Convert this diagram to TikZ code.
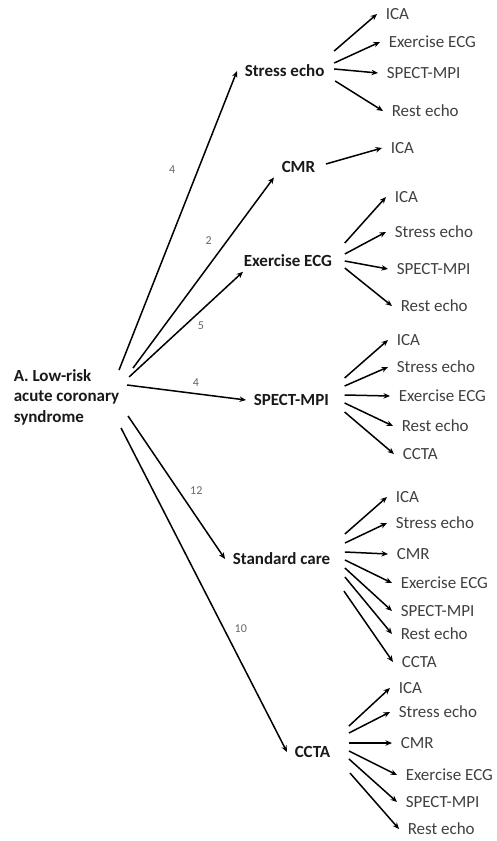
\documentclass[tikz,border=0pt]{standalone}
\usepackage{fontspec}
\setmainfont{Carlito}
\usetikzlibrary{arrows.meta}

\begin{document}
\begin{tikzpicture}[x=1pt, y=-1pt, line width=1.5pt, >={Stealth[length=6.5pt,width=5.5pt]},
    main/.style = {font=\fontsize{17}{20.5}\selectfont\bfseries, text=black!90, anchor=west, inner xsep=7pt, inner ysep=4pt},
    leaf/.style = {font=\fontsize{17}{20.5}\selectfont, text=black!75, anchor=west, inner xsep=8pt, inner ysep=2pt},
    num/.style = {font=\fontsize{12}{14}\selectfont, text=black!60, inner sep=0pt}]
    \useasboundingbox (0,0) rectangle (496,841);

    \node[main, align=left, inner sep=0pt] (0) at (13,397) {A. Low-risk\\acute coronary\\syndrome};
    \node[main] (1) at (237,71) {Stress echo};
    \node[main] (2) at (274,167) {CMR};
    \node[main] (3) at (236,261) {Exercise ECG};
    \node[main] (4) at (246,400) {SPECT-MPI};
    \node[main] (5) at (225,559) {Standard care};
    \node[main] (6) at (287,752) {CCTA};

    % second tests
    \node[leaf] (11) at (377,14) {ICA};
    \node[leaf] (12) at (380,42) {Exercise ECG};
    \node[leaf] (13) at (378,73) {SPECT-MPI};
    \node[leaf] (14) at (383,111) {Rest echo};
    \node[leaf] (21) at (382,148) {ICA};
    \node[leaf] (31) at (386,197) {ICA};
    \node[leaf] (32) at (386,232) {Stress echo};
    \node[leaf] (33) at (388,269) {SPECT-MPI};
    \node[leaf] (34) at (392,306) {Rest echo};
    \node[leaf] (41) at (388,340) {ICA};
    \node[leaf] (42) at (388,367) {Stress echo};
    \node[leaf] (43) at (390,396) {Exercise ECG};
    \node[leaf] (44) at (393,426) {Rest echo};
    \node[leaf] (45) at (394,454) {CCTA};
    \node[leaf] (51) at (387,497) {ICA};
    \node[leaf] (52) at (387,523) {Stress echo};
    \node[leaf] (53) at (388,554) {CMR};
    \node[leaf] (54) at (392,583) {Exercise ECG};
    \node[leaf] (55) at (392,611) {SPECT-MPI};
    \node[leaf] (56) at (392,634) {Rest echo};
    \node[leaf] (57) at (393,662) {CCTA};
    \node[leaf] (61) at (390,688) {ICA};
    \node[leaf] (62) at (390,712) {Stress echo};
    \node[leaf] (63) at (392,743) {CMR};
    \node[leaf] (64) at (397,775) {Exercise ECG};
    \node[leaf] (65) at (397,802) {SPECT-MPI};
    \node[leaf] (66) at (399,829) {Rest echo};

    % first tests
    \draw[->] ([shift={(-1,-27)}]0.east) -- (1.west) node[num, pos=0.67, left=22pt] {4};
    \draw[->] ([shift={(13,-29)}]0.east) -- (2.south west) node[num, pos=0.67, left=15pt] {2};
    \draw[->] ([shift={(9,-20)}]0.east) -- ([xshift=7pt]3.south west) node[num, pos=0.63, below=10pt] {5};
    \draw[->] ([shift={(7,-12)}]0.east) -- (4.west) node[num, pos=0.58, above=6pt] {4};
    \draw[->] ([shift={(8,19)}]0.east) -- (5.west) node[num, pos=0.52, right=11pt] {12};
    \draw[->] ([shift={(1,31)}]0.east) -- (6.west) node[num, pos=0.62, right=10pt] {10};

    % next tests
    \draw[->] ([shift={(2,-20)}]1.east) -- (11.west);
    \draw[->] ([shift={(2,-8)}]1.east) -- (12.west);
    \draw[->] ([shift={(2,-2)}]1.east) -- (13.west);
    \draw[->] ([shift={(3,10)}]1.east) -- (14.west);
    \draw[->] ([shift={(3,-3)}]2.east) -- (21.west);
    \draw[->] ([shift={(5,-18)}]3.east) -- (31.west);
    \draw[->] ([shift={(5,-7)}]3.east) -- (32.west);
    \draw[->] ([shift={(5,0)}]3.east) -- (33.west);
    \draw[->] ([shift={(5,7)}]3.east) -- (34.west);
    \draw[->] ([shift={(8,-22)}]4.east) -- (41.west);
    \draw[->] ([shift={(8,-14)}]4.east) -- (42.west);
    \draw[->] ([shift={(8,-5)}]4.east) -- (43.west);
    \draw[->] ([shift={(8,3)}]4.east) -- (44.west);
    \draw[->] ([shift={(8,12)}]4.east) -- (45.west);
    \draw[->] ([shift={(7,-25)}]5.east) -- (51.west);
    \draw[->] ([shift={(7,-16)}]5.east) -- (52.west);
    \draw[->] ([shift={(7,-7)}]5.east) -- (53.west);
    \draw[->] ([shift={(7,1)}]5.east) -- (54.west);
    \draw[->] ([shift={(7,9)}]5.east) -- (55.west);
    \draw[->] ([shift={(7,18)}]5.east) -- (56.west);
    \draw[->] ([shift={(6,32)}]5.east) -- (57.west);
    \draw[->] ([shift={(11,-26)}]6.east) -- (61.west);
    \draw[->] ([shift={(11,-19)}]6.east) -- (62.west);
    \draw[->] ([shift={(11,-9)}]6.east) -- (63.west);
    \draw[->] ([shift={(11,-1)}]6.east) -- (64.west);
    \draw[->] ([shift={(11,7)}]6.east) -- (65.west);
    \draw[->] ([shift={(12,21)}]6.east) -- (66.west);
\end{tikzpicture}
\end{document}
